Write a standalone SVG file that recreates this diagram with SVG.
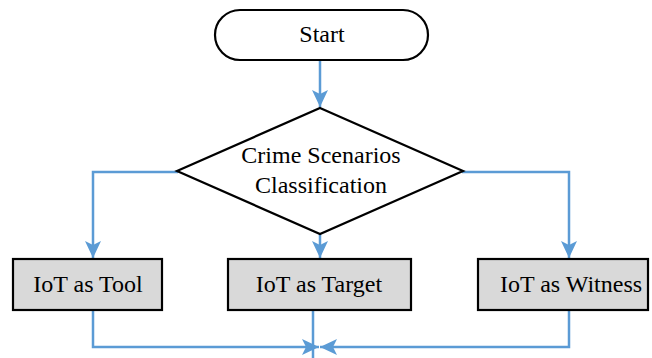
<svg xmlns="http://www.w3.org/2000/svg" width="652" height="358" viewBox="0 0 652 358" font-family="Liberation Serif, serif">
<style>
.n{stroke:#000;stroke-width:2.2}
.box{fill:#d9d9d9}
.t{font-size:24px;fill:#000;text-anchor:middle}
.c{fill:none;stroke:#5b9bd5;stroke-width:2.5}
</style>
<defs>
<marker id="ah" markerUnits="userSpaceOnUse" markerWidth="18" markerHeight="18" viewBox="0 0 18 18" refX="17" refY="9" orient="auto">
<path d="M0,1 L17,9 L0,17 L4,9 Z" fill="#5b9bd5"/>
</marker>
</defs>
<rect width="652" height="358" fill="#fff"/>
<g id="connectors">
<path class="c" d="M320,60 V107" marker-end="url(#ah)"/>
<path class="c" d="M178,172 H93 V258" marker-end="url(#ah)"/>
<path class="c" d="M320,233 V258" marker-end="url(#ah)"/>
<path class="c" d="M462,172 H569 V258" marker-end="url(#ah)"/>
<path class="c" d="M93,310 V347 H319" marker-end="url(#ah)"/>
<path class="c" d="M569,310 V347 H320" marker-end="url(#ah)"/>
<path class="c" d="M313,310 V358"/>
</g>
<g id="start">
<rect class="n" x="215" y="10" width="213" height="50" rx="25" fill="#fff"/>
<text class="t" x="322" y="42">Start</text>
</g>
<g id="classification">
<polygon class="n" points="320,108 463,171 320,234 177,171" fill="#fff"/>
<text class="t" x="321" y="163">Crime Scenarios</text>
<text class="t" x="321" y="193">Classification</text>
</g>
<g id="tool">
<rect class="n box" x="13" y="259" width="149" height="51"/>
<text class="t" x="88" y="292">IoT as Tool</text>
</g>
<g id="target">
<rect class="n box" x="228" y="259" width="183" height="51"/>
<text class="t" x="319" y="292">IoT as Target</text>
</g>
<g id="witness">
<rect class="n box" x="478" y="259" width="170" height="51"/>
<text class="t" x="571" y="292">IoT as Witness</text>
</g>
</svg>
